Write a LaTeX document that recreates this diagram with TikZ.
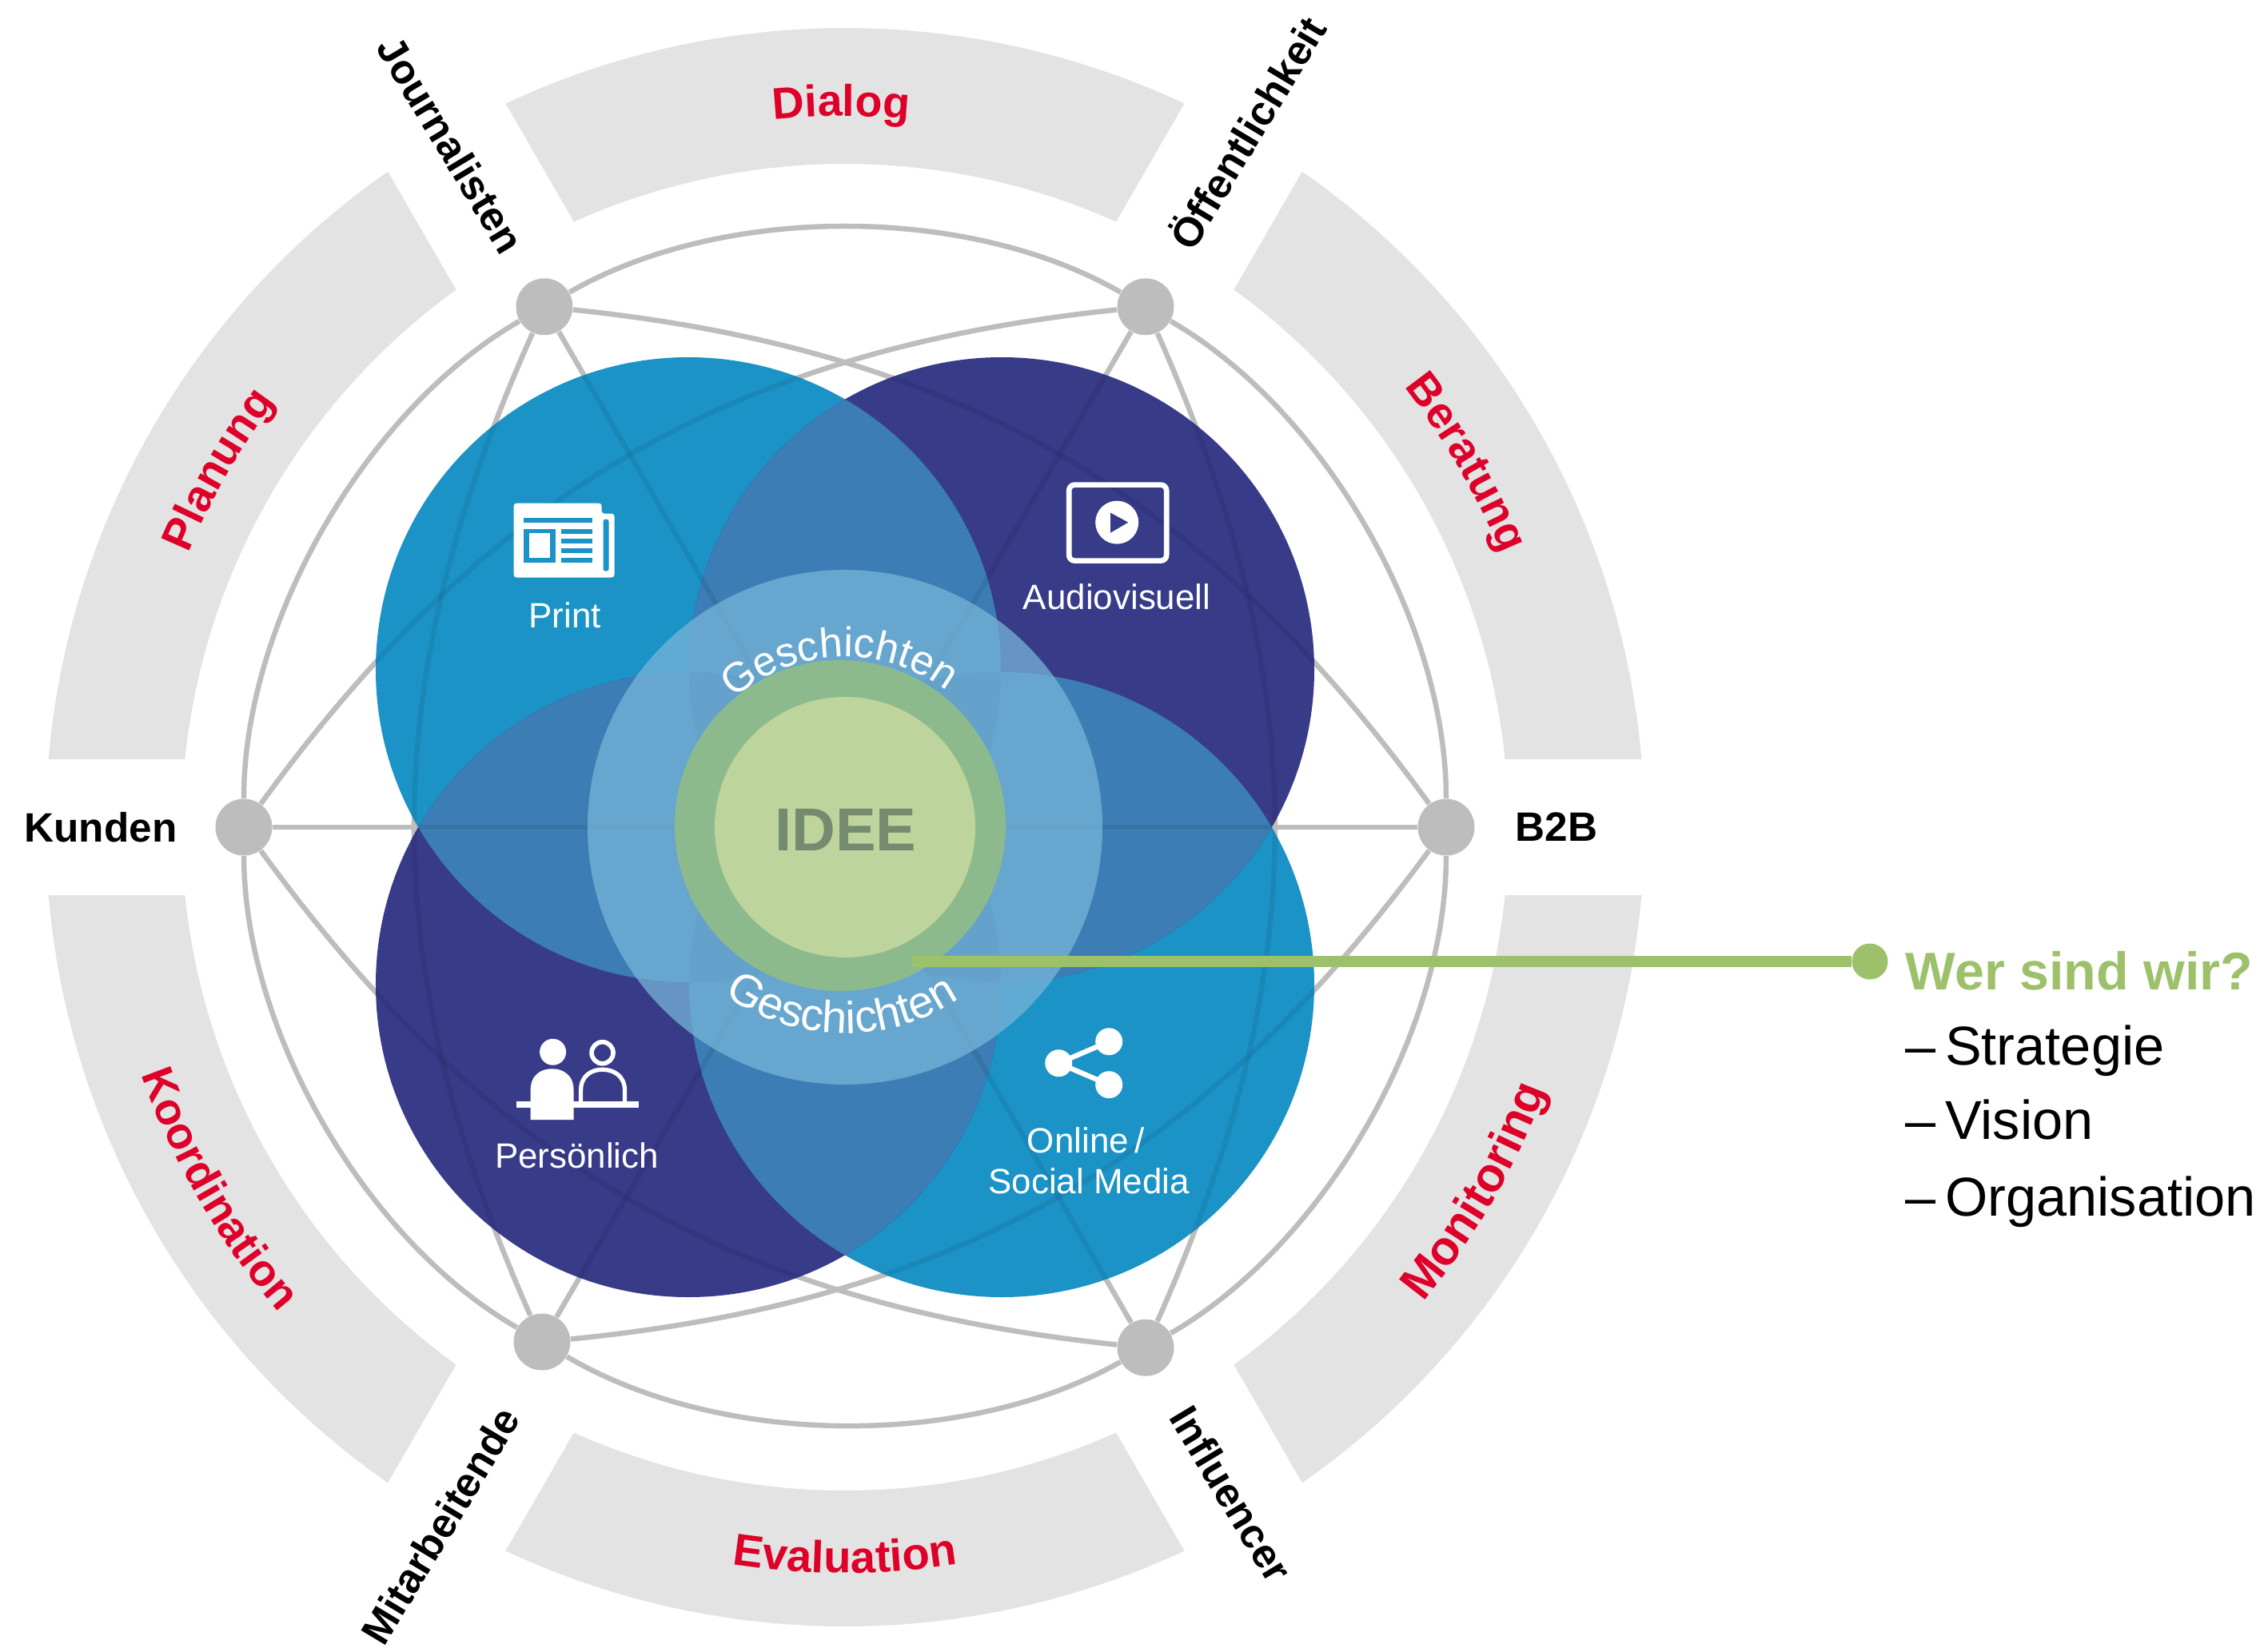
\documentclass[tikz,border=0pt]{standalone}
\usepackage{fontspec}
\setmainfont{Liberation Sans}
\usetikzlibrary{decorations.text}

\definecolor{ringgray}{HTML}{E3E3E3}
\definecolor{netgray}{HTML}{BDBDBD}
\definecolor{labelred}{HTML}{DE0029}
\definecolor{cyanblue}{HTML}{1B93C6}
\definecolor{navyblue}{HTML}{373B88}
\definecolor{lensblue}{HTML}{3B7DB4}
\definecolor{lensdark}{HTML}{2E70A8}
\definecolor{lightblue}{HTML}{77B4D8}
\definecolor{ideegreen}{HTML}{BDD59C}
\definecolor{ideering}{HTML}{8DBA8D}
\definecolor{ideetext}{HTML}{758B70}
\definecolor{wergreen}{HTML}{9DC16B}

\tikzset{
  netnode/.style={circle, fill=netgray, minimum size=0.71cm, inner sep=0pt},
  netline/.style={draw=netgray, line width=1.85pt},
  netshade/.style={draw=black, opacity=0.07, line width=1.85pt},
  netlabel/.style={inner sep=0pt, font=\bfseries\fontsize{14.6}{16}\selectfont},
  medialabel/.style={inner sep=0pt, anchor=base, text=white, font=\fontsize{12.5}{14}\selectfont},
  listlabel/.style={inner sep=0pt, anchor=base west, font=\fontsize{19.5}{22}\selectfont},
  curvelabel/.style 2 args={decorate, decoration={text along path, text align=center, text color=labelred,
      text={|\bfseries\fontsize{#1}{18}\selectfont|#2}}},
  storylabel/.style 2 args={decorate, decoration={text along path, text align=center, text color=white,
      text={|\fontsize{#1}{16}\selectfont|#2}}},
}

\newcommand{\drawnet}[1]{%
  \draw[#1] (kunden) -- (btob);
  \draw[#1] (journ) -- (influ);
  \draw[#1] (oeffent) -- (mitarb);
  \foreach \p/\q in {journ/oeffent, oeffent/btob, btob/influ, influ/mitarb, mitarb/kunden, kunden/journ}
    \draw[#1] (\p) to[bend left=30, looseness=0.82] (\q);
  \foreach \p/\q in {journ/btob, oeffent/influ, btob/mitarb, influ/kunden, mitarb/journ, kunden/oeffent}
    \draw[#1] (\p) to[bend left=24] (\q);
}

\begin{document}
\begin{tikzpicture}
    \useasboundingbox (-10.57,-10.31) rectangle (17.75,10.35);

    % outer ring
    \foreach \a in {0,60,...,300}
      \fill[ringgray] ({\a+4.88}:10) arc[start angle=\a+4.88, end angle=\a+55.12, radius=10]
        -- ({\a+54.12}:8.3) arc[start angle=\a+54.12, end angle=\a+5.88, radius=8.3] -- cycle;

    \path[curvelabel={15.8}{Dialog}] (125.3:8.9) arc[start angle=125.3, end angle=55.3, radius=8.9];
    \path[curvelabel={15.8}{Beratung}] (65.4:8.9) arc[start angle=65.4, end angle=-4.6, radius=8.9];
    \path[curvelabel={15.8}{Planung}] (185.3:8.9) arc[start angle=185.3, end angle=115.3, radius=8.9];
    \path[curvelabel={16}{Evaluation}] (235:9.33) arc[start angle=235, end angle=305, radius=9.33];
    \path[curvelabel={15.8}{Koordination}] (175:9.33) arc[start angle=175, end angle=245, radius=9.33];
    \path[curvelabel={17}{Monitoring}] (295:9.36) arc[start angle=295, end angle=365, radius=9.36];

    % network
    \node[netnode] (journ) at (120:7.52) {};
    \node[netnode] (oeffent) at (60:7.52) {};
    \node[netnode] (btob) at (0:7.52) {};
    \node[netnode] (influ) at (-60:7.52) {};
    \node[netnode] (mitarb) at (-3.79, -6.44) {};
    \node[netnode] (kunden) at (180:7.52) {};
    \drawnet{netline}

    \node[netlabel, rotate=-59] (journlabel) at (-4.93, 8.54) {Journalisten};
    \node[netlabel, rotate=59] (oeffentlabel) at (5.01, 8.70) {Öffentlichkeit};
    \node[netlabel] (btoblabel) at (8.90, 0) {B2B};
    \node[netlabel, rotate=-59] (influlabel) at (4.83, -8.34) {Influencer};
    \node[netlabel, rotate=59] (mitarblabel) at (-5.06, -8.74) {Mitarbeitende};
    \node[netlabel] (kundenlabel) at (-9.31, 0) {Kunden};

    % four media circles
    \coordinate (ctl) at (-1.96, 1.97);
    \coordinate (ctr) at (1.96, 1.97);
    \coordinate (cbl) at (-1.96, -1.97);
    \coordinate (cbr) at (1.96, -1.97);
    \fill[cyanblue] (ctl) circle (3.91);
    \fill[cyanblue] (cbr) circle (3.91);
    \fill[navyblue] (ctr) circle (3.91);
    \fill[navyblue] (cbl) circle (3.91);
    \foreach \p/\q in {ctl/ctr, ctl/cbl, ctr/cbr, cbl/cbr}{
      \begin{scope}
        \clip (\p) circle (3.91);
        \fill[lensblue] (\q) circle (3.91);
      \end{scope}
    }
    \foreach \p/\q in {ctl/cbr, ctr/cbl}{
      \begin{scope}
        \clip (\p) circle (3.91);
        \fill[lensdark] (\q) circle (3.91);
      \end{scope}
    }
    \begin{scope}
      \clip (ctl) circle (3.91) (ctr) circle (3.91) (cbl) circle (3.91) (cbr) circle (3.91);
      \drawnet{netshade}
    \end{scope}

    % middle
    \fill[lightblue, opacity=0.75] (0,0) circle (3.22);
    \fill[ideering] (-0.06,0.02) circle (2.07);
    \fill[ideegreen] (0,0) circle (1.63);
    \node[inner sep=0pt, text=ideetext, font=\bfseries\fontsize{21.6}{24}\selectfont] (idee) at (0.01,-0.03) {IDEE};
    \path[storylabel={14.8}{Geschichten}] (132:2.13) arc[start angle=132, end angle=52, radius=2.13];
    \path[storylabel={16}{Geschichten}] (229:2.58) arc[start angle=229, end angle=309, radius=2.58];

    % icons, typed in pixels of the sheet
    \begin{scope}[shift={(-10.57,10.35)}, x=0.01cm, y=-0.01cm]
      % print
      \fill[white, rounded corners=1pt] (643,630) -- (753,630) -- (753,643) -- (769,643) -- (769,723) -- (643,723) -- cycle;
      \fill[cyanblue] (655,648) rectangle (741,654);
      \fill[cyanblue] (655,662) rectangle (695,704);
      \fill[white] (662,667) rectangle (688,698);
      \foreach \y in {662,674,686,698}
        \fill[cyanblue] (702,\y) rectangle (741,\y+6);
      \fill[cyanblue, rounded corners=0.8pt] (755,650) rectangle (762,715);
      \node[medialabel] (print) at (707,786) {Print};
      % audiovisuell
      \draw[white, line width=1.9pt, rounded corners=2pt] (1338,607) rectangle (1460,702);
      \fill[white] (1398,654) circle [radius=0.27cm];
      \fill[navyblue] (1390,642) -- (1412,654) -- (1390,667) -- cycle;
      \node[medialabel] (audio) at (1398,763) {Audiovisuell};
      % persoenlich
      \fill[white] (692,1317) circle [radius=0.165cm];
      \draw[white, line width=1.6pt] (754,1318) circle [radius=0.135cm];
      \fill[white] (664,1402) -- (664,1365) .. controls (664,1345) and (678,1338) .. (691,1338)
        .. controls (704,1338) and (718,1345) .. (718,1365) -- (718,1402) -- cycle;
      \draw[white, line width=1.5pt] (727,1381) -- (727,1365) .. controls (727,1347) and (740,1339) .. (754,1339)
        .. controls (768,1339) and (782,1347) .. (782,1365) -- (782,1381);
      \fill[white] (646,1379) rectangle (799,1387);
      \node[medialabel] (person) at (722,1462) {Persönlich};
      % online
      \coordinate (sharetop) at (1388,1304);
      \coordinate (shareleft) at (1325,1331);
      \coordinate (sharebot) at (1388,1358);
      \draw[white, line width=1.8pt] (sharetop) -- (shareleft) -- (sharebot);
      \fill[white] (sharetop) circle [radius=0.17cm] (shareleft) circle [radius=0.17cm] (sharebot) circle [radius=0.17cm];
      \node[medialabel] (online) at (1359,1443) {Online\,/};
      \node[medialabel] (social) at (1363,1494) {Social Media};
    \end{scope}

    % link to the list
    \coordinate (werstart) at (0.84,-1.68);
    \node[circle, fill=wergreen, minimum size=0.45cm, inner sep=0pt] (werdot) at (12.82,-1.68) {};
    \draw[wergreen, line width=3.8pt] (werstart) -- (werdot);

    \node[listlabel, text=wergreen, font=\bfseries\fontsize{18.9}{22}\selectfont] (wer) at (13.26,-2.03) {Wer sind wir?};
    \node[listlabel] (strategie) at (13.26,-2.97) {–\,Strategie};
    \node[listlabel] (vision) at (13.26,-3.90) {–\,Vision};
    \node[listlabel] (organ) at (13.26,-4.86) {–\,Organisation};
\end{tikzpicture}
\end{document}
